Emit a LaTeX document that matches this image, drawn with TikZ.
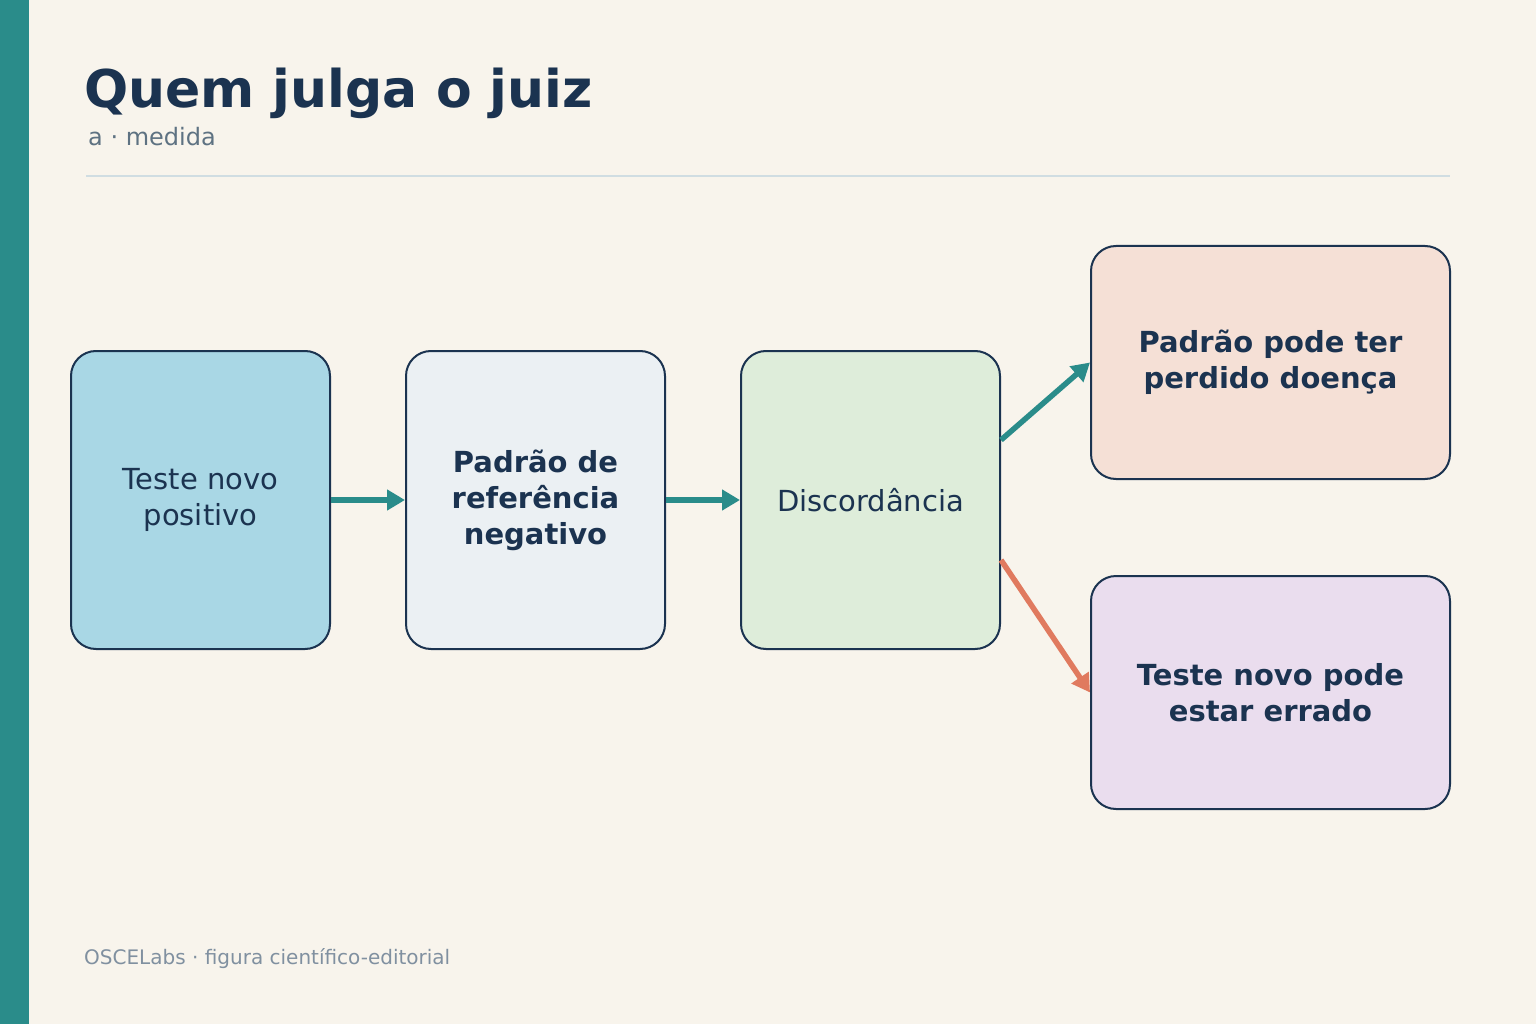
\documentclass[tikz,border=0pt]{standalone}
\usepackage{fontspec}
\setmainfont{DejaVu Sans}
\usetikzlibrary{calc,arrows.meta}
\definecolor{bg}{HTML}{F8F4EC}
\definecolor{teal}{HTML}{2A8C8A}
\definecolor{navy}{HTML}{1B3350}
\definecolor{cA}{HTML}{A9D7E5}
\definecolor{cB}{HTML}{EBF0F3}
\definecolor{cC}{HTML}{DEEDDA}
\definecolor{cD}{HTML}{F5E0D6}
\definecolor{cE}{HTML}{EADDEE}
\definecolor{orng}{HTML}{E07A5F}
\definecolor{subc}{HTML}{5E7282}
\definecolor{footc}{HTML}{8090A0}
\definecolor{rule}{HTML}{D0DDE2}
\begin{document}
\begin{tikzpicture}[x=1pt,y=-1pt,
 box/.style={draw=navy,line width=2pt,rounded corners=25pt,minimum width=259pt,minimum height=298pt,align=center,text=navy,font=\fontsize{29}{36}\selectfont},
 wbox/.style={box,minimum width=359pt,minimum height=233pt,font=\fontsize{29}{36}\selectfont\bfseries},
 arr/.style={line width=5.5pt,-{Triangle[length=18pt,width=20pt]}}]
\fill[bg] (0,0) rectangle (1536,1024);
\useasboundingbox (0,0) rectangle (1536,1024);
\fill[teal] (0,0) rectangle (29,1024);
\node[anchor=base west,text=navy,font=\fontsize{52}{56}\selectfont\bfseries,inner sep=0] (title) at (84,108) {Quem julga o juiz};
\node[anchor=base west,text=subc,font=\fontsize{24}{28}\selectfont,inner sep=0] (sub) at (88,146) {a · medida};
\draw[rule,line width=2.5pt] (86,176) -- (1450,176);
\node[box,fill=cA] (b1) at (200.5,500) {Teste novo\\positivo};
\node[box,fill=cB,font=\fontsize{29}{36}\selectfont\bfseries] (b2) at (535.5,500) {Padrão de\\referência\\negativo};
\node[box,fill=cC] (b3) at (870.5,500) {Discordância};
\node[wbox,fill=cD] (b4) at (1270.5,362.5) {Padrão pode ter\\perdido doença};
\node[wbox,fill=cE] (b5) at (1270.5,692.5) {Teste novo pode\\estar errado};
\draw[arr,teal] (b1.east) -- (b2.west);
\draw[arr,teal] (b2.east) -- (b3.west);
\draw[arr,teal] ($(b3.east)+(0,-60)$) -- (b4.west);
\draw[arr,orng] ($(b3.east)+(0,60)$) -- (b5.west);
\node[anchor=base west,text=footc,font=\fontsize{20}{24}\selectfont,inner sep=0] (foot) at (84,964) {OSCELabs · figura científico-editorial};
\end{tikzpicture}
\end{document}
